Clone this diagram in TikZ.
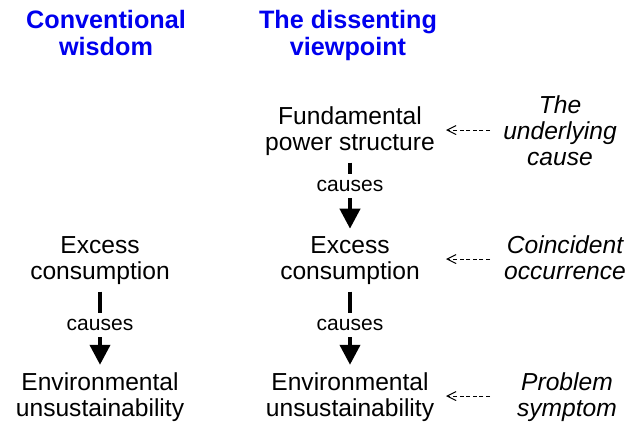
\documentclass[tikz,border=0pt]{standalone}
\usepackage{fontspec}
\setmainfont{Liberation Sans}
\usetikzlibrary{arrows.meta}
\begin{document}
\begin{tikzpicture}[x=0.5pt,y=-0.5pt,
  title/.style={font=\fontsize{12.6}{13.5}\selectfont\bfseries, text={rgb,255:red,0;green,0;blue,238}, align=center, anchor=base, inner sep=0pt},
  lbl/.style={font=\fontsize{12.3}{13}\selectfont, align=center, anchor=base, inner xsep=0pt, inner ysep=3.5pt},
  note/.style={font=\fontsize{12.3}{13}\selectfont\itshape, align=center, anchor=base, inner sep=0pt},
  causelbl/.style={font=\fontsize{10.5}{12}\selectfont, inner sep=0pt, minimum height=12pt},
  bar/.style={line width=2pt},
  barrow/.style={line width=2pt, -{Triangle[width=10pt,length=10pt]}},
  dasharrow/.style={line width=0.5pt, dash pattern=on 2pt off 1.3pt, -{Straight Barb[length=4.5pt,width=4.5pt]}}
]
\useasboundingbox (0,0) rectangle (631,424);

\node[title] (t1) at (106,55) {Conventional\\wisdom};
\node[title] (t2) at (348,55) {The dissenting\\viewpoint};

\node[lbl] (fund) at (350,150) {Fundamental\\power structure};
\node[note] (under) at (560,165) {The\\underlying\\cause};

\node[lbl] (exL) at (100,279) {Excess\\consumption};
\node[lbl] (exM) at (350,279) {Excess\\consumption};
\node[note] (coin) at (565,279) {Coincident\\occurrence};

\node[lbl] (envL) at (100,416) {Environmental\\unsustainability};
\node[lbl] (envM) at (350,416) {Environmental\\unsustainability};
\node[note] (prob) at (567,416) {Problem\\symptom};

\node[causelbl] (cT) at (350,186) {causes};
\node[causelbl] (cL) at (100,325) {causes};
\node[causelbl] (cM) at (350,325) {causes};

\draw[bar] (fund.south) -- (cT.north);
\draw[barrow] (cT.south) -- (exM.north);
\draw[bar] (exM.south) -- (cM.north);
\draw[barrow] (cM.south) -- (envM.north);
\draw[bar] (exL.south) -- (cL.north);
\draw[barrow] (cL.south) -- (envL.north);

\coordinate (d1s) at (490,130);
\coordinate (d1e) at (446,130);
\coordinate (d2s) at (490,259);
\coordinate (d2e) at (446,259);
\coordinate (d3s) at (490,396);
\coordinate (d3e) at (446,396);
\draw[dasharrow] (d1s) -- (d1e);
\draw[dasharrow] (d2s) -- (d2e);
\draw[dasharrow] (d3s) -- (d3e);
\end{tikzpicture}
\end{document}
